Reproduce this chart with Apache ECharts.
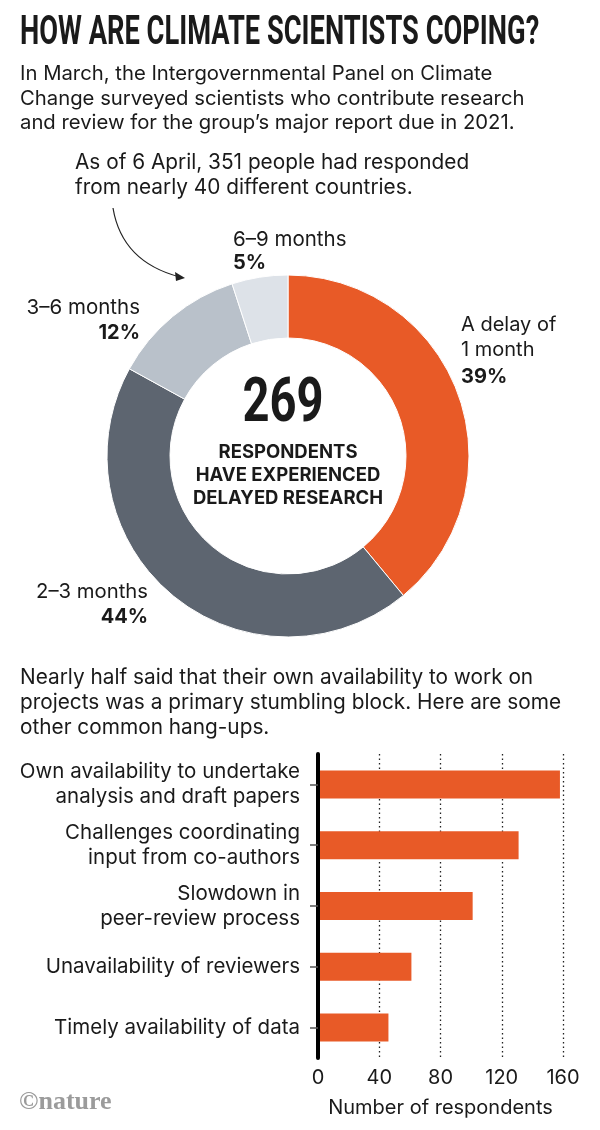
<!DOCTYPE html>
<html>
<head>
<meta charset="utf-8">
<script src="https://cdn.jsdelivr.net/npm/echarts@6/dist/echarts.min.js"></script>
<style>
html,body{margin:0;padding:0;background:#fff;}
#chart{width:600px;height:1130px;}
</style>
</head>
<body>
<div id="chart"></div>
<script>
// ---- Data ----
const delayCategories = ['A delay of 1 month', '2–3 months', '3–6 months', '6–9 months'];
const delayShares = [39, 44, 12, 5];
const delayedRespondents = 269;
const hangupCategories = [
  'Own availability to undertake\nanalysis and draft papers',
  'Challenges coordinating\ninput from co-authors',
  'Slowdown in\npeer-review process',
  'Unavailability of reviewers',
  'Timely availability of data'
];
const hangupValues = [158, 131, 101, 61, 46];
const xTickValues = [0, 40, 80, 120, 160];

// ---- Style ----
const ORANGE = '#E85A27';
const sliceColors = [ORANGE, '#5D6570', '#B9C1CA', '#DDE2E8'];
const TXT = '#1a1a1a';
const FONT = 'Inter, Roboto, "Noto Sans", sans-serif';
const TFONT = 'Roboto, "Noto Sans", sans-serif';

const chart = echarts.init(document.getElementById('chart'), null, {renderer: 'canvas'});

function txt(str, x, y, opts) {
  opts = opts || {};
  const size = opts.size || 20;
  const weight = opts.weight || 'normal';
  const family = opts.family || FONT;
  return {
    type: 'text',
    x: x, y: y,
    scaleX: opts.scaleX || 1,
    silent: true,
    style: {
      text: str,
      x: 0, y: 0,
      font: weight + ' ' + size + 'px ' + family,
      fill: opts.fill || TXT,
      align: opts.align || 'left',
      textAlign: opts.align || 'left',
      verticalAlign: 'middle',
      textVerticalAlign: 'middle'
    }
  };
}

const graphics = [
  txt('HOW ARE CLIMATE SCIENTISTS COPING?', 20, 34, {size: 41, weight: 'bold', scaleX: 0.665, family: TFONT}),
  txt('In March, the Intergovernmental Panel on Climate', 20, 74, {size: 20.3}),
  txt('Change surveyed scientists who contribute research', 20, 99, {size: 20.3}),
  txt('and review for the group\u2019s major report due in 2021.', 20, 123, {size: 20.3}),
  txt('As of 6 April, 351 people had responded', 75, 163, {size: 20.8}),
  txt('from nearly 40 different countries.', 75, 188, {size: 20.8}),
  // slice labels
  txt('A delay of', 461, 325, {size: 20}),
  txt('1 month', 461, 350, {size: 20}),
  txt(delayShares[0] + '%', 461, 377, {size: 20, weight: 'bold'}),
  txt(delayCategories[1], 148, 592, {size: 20.3, align: 'right'}),
  txt(delayShares[1] + '%', 148, 617, {size: 20, weight: 'bold', align: 'right'}),
  txt(delayCategories[2], 140, 308, {size: 20.5, align: 'right'}),
  txt(delayShares[2] + '%', 140, 333, {size: 20, weight: 'bold', align: 'right'}),
  txt(delayCategories[3], 233, 240, {size: 20.5}),
  txt(delayShares[3] + '%', 233, 263, {size: 20, weight: 'bold'}),
  // centre
  txt(String(delayedRespondents), 283, 405, {size: 62, weight: 'bold', align: 'center', scaleX: 0.76, family: TFONT}),
  txt('RESPONDENTS', 288, 452, {size: 18.5, weight: 'bold', align: 'center'}),
  txt('HAVE EXPERIENCED', 288, 475, {size: 18.5, weight: 'bold', align: 'center'}),
  txt('DELAYED RESEARCH', 288, 498, {size: 18.5, weight: 'bold', align: 'center'}),
  // second paragraph
  txt('Nearly half said that their own availability to work on', 20, 678, {size: 20.8}),
  txt('projects was a primary stumbling block. Here are some', 20, 703, {size: 20.8}),
  txt('other common hang-ups.', 20, 728, {size: 20.8}),
  txt('\u00A9nature', 19, 1102, {size: 26, weight: 'bold', family: '"Liberation Serif", serif', fill: '#9b9b9b'}),
  // arrow
  {
    type: 'bezierCurve', silent: true,
    shape: {x1: 113, y1: 208, cpx1: 122, cpy1: 262, x2: 180, y2: 277},
    style: {stroke: '#222', lineWidth: 1.2, fill: null}
  },
  {
    type: 'polygon', silent: true,
    shape: {points: [[185, 278], [175, 272], [176, 281]]},
    style: {fill: '#222'}
  }
];

const option = {
  animation: false,
  backgroundColor: '#fff',
  graphic: graphics,
  grid: {left: 318, right: 37, top: 754, height: 304, containLabel: false},
  xAxis: {
    type: 'value', min: 0, max: 160, interval: 40,
    axisLine: {show: false},
    axisTick: {show: false},
    axisLabel: {
      color: TXT, fontFamily: FONT, fontSize: 20, margin: 10,
      customValues: xTickValues
    },
    splitLine: {show: true, lineStyle: {type: [1.5, 3], color: '#222', width: 1.3}},
    name: 'Number of respondents', nameLocation: 'middle', nameGap: 40,
    nameTextStyle: {color: TXT, fontFamily: FONT, fontSize: 20}
  },
  yAxis: {
    type: 'category', inverse: true, data: hangupCategories,
    axisLine: {show: true, lineStyle: {color: '#000', width: 4}},
    axisTick: {show: true, alignWithLabel: true, length: 8, lineStyle: {color: '#555', width: 1.5}},
    axisLabel: {color: TXT, fontFamily: FONT, fontSize: 20.5, margin: 18, lineHeight: 25, align: 'right'},
    z: 5
  },
  series: [
    {
      type: 'pie', silent: true,
      center: [288, 456], radius: [118, 181],
      startAngle: 90, clockwise: true,
      label: {show: false}, labelLine: {show: false},
      itemStyle: {borderColor: '#fff', borderWidth: 1},
      data: delayCategories.map((c, i) => ({name: c, value: delayShares[i], itemStyle: {color: sliceColors[i]}}))
    },
    {
      type: 'bar', silent: true,
      data: hangupValues, barWidth: 28,
      itemStyle: {color: ORANGE},
      z: 2
    }
  ]
};
chart.setOption(option);
</script>
</body>
</html>
